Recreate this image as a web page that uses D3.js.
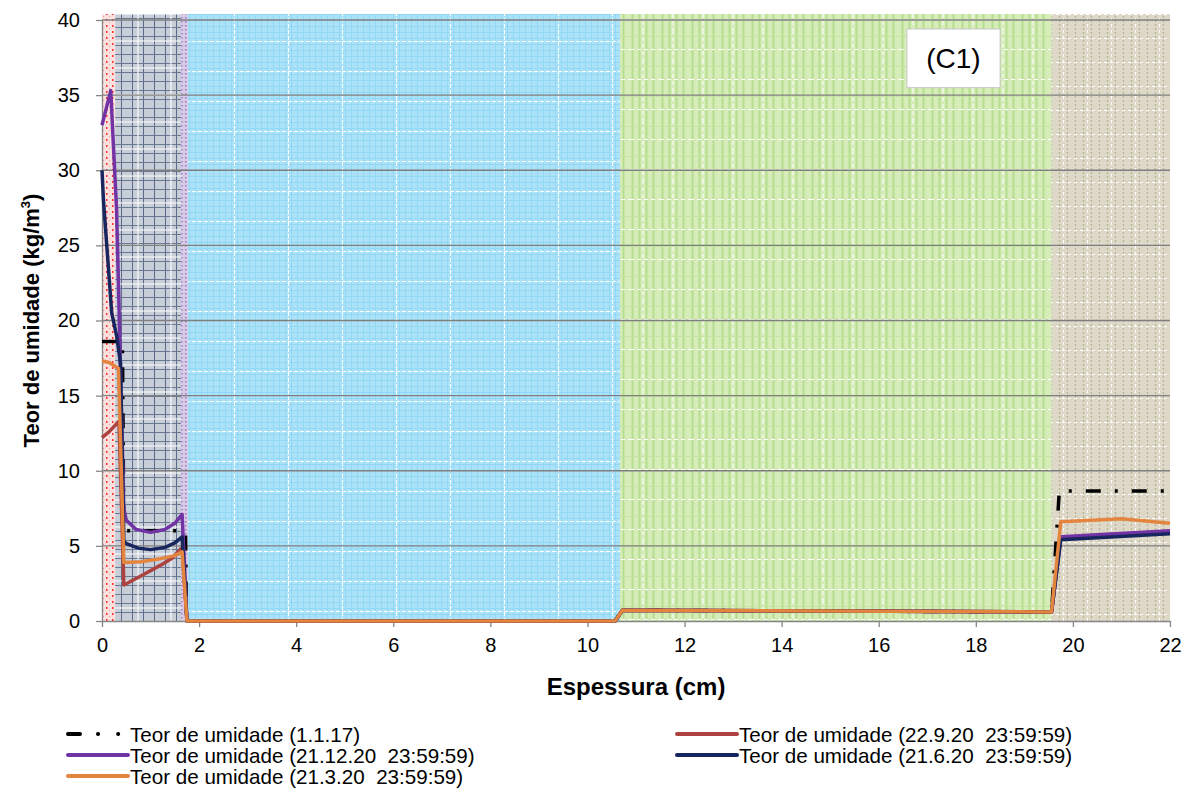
<!DOCTYPE html>
<html>
<head>
<meta charset="utf-8">
<script src="https://cdn.jsdelivr.net/npm/d3@7"></script>
<style>
  body { margin: 0; background: #fff; }
  svg { display: block; }
  text { font-family: "Liberation Sans", Arial, sans-serif; fill: #000; }
</style>
</head>
<body>
<svg id="chart" width="1184" height="789"></svg>
<script>
// ticks
const xTicks = [0, 2, 4, 6, 8, 10, 12, 14, 16, 18, 20, 22];
const yTicks = [0, 5, 10, 15, 20, 25, 30, 35, 40];

// material layers (cm)
const layerStart = [0, 0.27, 1.63, 1.77, 10.67, 19.56];
const layerEnd = [0.27, 1.63, 1.77, 10.67, 19.56, 22];
const layerFill = ['pReboco', 'pTijolo', 'pCola', 'pAzul', 'pVerde', 'pPedra'];

// series
const seriesNames = [
  'Teor de umidade (1.1.17)',
  'Teor de umidade (22.9.20  23:59:59)',
  'Teor de umidade (21.12.20  23:59:59)',
  'Teor de umidade (21.6.20  23:59:59)',
  'Teor de umidade (21.3.20  23:59:59)'
];
const seriesColors = ['#000000', '#ad4340', '#7234a4', '#17265f', '#e3853f'];

const xJan17 = [0, 0.42, 0.45, 1.72, 1.74, 10.57, 10.72, 19.56, 19.72, 22];
const yJan17 = [18.6, 18.6, 6.0, 6.0, 0, 0, 0.72, 0.6, 8.65, 8.65];

const xSep20 = [0, 0.15, 0.35, 0.45, 0.8, 1.2, 1.45, 1.65, 1.75, 10.57, 10.72, 19.56, 19.75, 22];
const ySep20 = [12.2, 12.6, 13.3, 2.4, 3.0, 3.7, 4.2, 4.9, 0, 0, 0.72, 0.6, 5.5, 5.9];

const xDec20 = [0, 0.18, 0.3, 0.35, 0.4, 0.45, 0.5, 0.7, 1.0, 1.3, 1.5, 1.65, 1.75, 10.57, 10.72, 19.56, 19.75, 22];
const yDec20 = [33, 35.3, 27.4, 21, 14, 7.5, 6.7, 6.1, 5.9, 6.1, 6.5, 7.1, 0, 0, 0.72, 0.6, 5.6, 6.0];

const xJun20 = [0, 0.03, 0.13, 0.2, 0.3, 0.38, 0.45, 0.5, 0.75, 1.0, 1.3, 1.5, 1.65, 1.75, 10.57, 10.72, 19.56, 19.75, 22];
const yJun20 = [30, 28, 23.6, 20.5, 19, 17.2, 5.3, 5.15, 4.85, 4.75, 4.9, 5.2, 5.6, 0, 0, 0.72, 0.6, 5.4, 5.8];

const xMar20 = [0, 0.15, 0.34, 0.45, 0.8, 1.2, 1.5, 1.65, 1.75, 10.57, 10.72, 19.56, 19.75, 21, 22];
const yMar20 = [17.3, 17.2, 16.8, 3.9, 3.95, 4.15, 4.35, 4.6, 0, 0, 0.72, 0.6, 6.6, 6.8, 6.5];

const seriesX = [xJan17, xSep20, xDec20, xJun20, xMar20];
const seriesY = [yJan17, ySep20, yDec20, yJun20, yMar20];
const drawOrder = [0, 1, 2, 3, 4];

// legend layout: [column, row]
const legendSlots = [[0, 0], [1, 0], [0, 1], [1, 1], [0, 2]];

const svg = d3.select('#chart');
const margin = { top: 20, right: 14, bottom: 168, left: 102 };
const W = 1184, H = 789;

const x = d3.scaleLinear().domain([0, 22]).range([margin.left, W - margin.right]);
const y = d3.scaleLinear().domain([0, 40]).range([H - margin.bottom, margin.top]);

// ---- patterns
const defs = svg.append('defs');

function makePattern(id, w, h, base, marks) {
  const p = defs.append('pattern')
    .attr('id', id)
    .attr('patternUnits', 'userSpaceOnUse')
    .attr('width', w).attr('height', h);
  p.append('rect').attr('width', w).attr('height', h).attr('fill', base);
  marks.forEach(m => {
    if (m.type === 'rect') {
      p.append('rect').attr('x', m.x).attr('y', m.y)
        .attr('width', m.w).attr('height', m.h).attr('fill', m.c);
    } else {
      p.append('line')
        .attr('x1', m.x1).attr('y1', m.y1).attr('x2', m.x2).attr('y2', m.y2)
        .attr('stroke', m.c).attr('stroke-width', m.sw || 1)
        .attr('stroke-dasharray', m.dash || null);
    }
  });
}

makePattern('pReboco', 6, 6, '#fbe0e0', [
  { type: 'rect', x: 4, y: 1, w: 1.5, h: 2, c: '#ff3030' },
  { type: 'rect', x: 1, y: 4, w: 1, h: 1, c: '#f79a9a' }
]);
makePattern('pTijolo', 33, 27, '#c8ced8', [
  { x1: 0.5, y1: 0, x2: 0.5, y2: 27, c: '#5a6a88', sw: 1 },
  { x1: 11.5, y1: 0, x2: 11.5, y2: 27, c: '#5a6a88', sw: 1 },
  { x1: 22.5, y1: 0, x2: 22.5, y2: 27, c: '#5a6a88', sw: 1 },
  { x1: 0, y1: 0.5, x2: 33, y2: 0.5, c: '#6a7892', sw: 1 },
  { x1: 0, y1: 9.5, x2: 33, y2: 9.5, c: '#6a7892', sw: 1 },
  { x1: 0, y1: 18.5, x2: 33, y2: 18.5, c: '#6a7892', sw: 1 },
  { x1: 6, y1: 0, x2: 6, y2: 27, c: '#ffffff', sw: 1 },
  { x1: 0, y1: 14, x2: 33, y2: 14, c: '#ffffff', sw: 1 }
]);
makePattern('pCola', 4, 4, '#d8cbe6', [
  { type: 'rect', x: 1, y: 1, w: 1.5, h: 1.5, c: '#9b74c6' }
]);
makePattern('pAzul', 54, 30, '#abe2f8', [
  { x1: 0, y1: 2.5, x2: 54, y2: 2.5, c: '#92d8f4', sw: 1 },
  { x1: 0, y1: 8.5, x2: 54, y2: 8.5, c: '#92d8f4', sw: 1 },
  { x1: 0, y1: 14.5, x2: 54, y2: 14.5, c: '#92d8f4', sw: 1 },
  { x1: 0, y1: 20.5, x2: 54, y2: 20.5, c: '#92d8f4', sw: 1 },
  { x1: 0, y1: 26.5, x2: 54, y2: 26.5, c: '#92d8f4', sw: 1 },
  { x1: 3.5, y1: 0, x2: 3.5, y2: 30, c: '#92d8f4', sw: 1 },
  { x1: 9.5, y1: 0, x2: 9.5, y2: 30, c: '#92d8f4', sw: 1 },
  { x1: 15.5, y1: 0, x2: 15.5, y2: 30, c: '#92d8f4', sw: 1 },
  { x1: 21.5, y1: 0, x2: 21.5, y2: 30, c: '#92d8f4', sw: 1 },
  { x1: 27.5, y1: 0, x2: 27.5, y2: 30, c: '#92d8f4', sw: 1 },
  { x1: 33.5, y1: 0, x2: 33.5, y2: 30, c: '#92d8f4', sw: 1 },
  { x1: 39.5, y1: 0, x2: 39.5, y2: 30, c: '#92d8f4', sw: 1 },
  { x1: 45.5, y1: 0, x2: 45.5, y2: 30, c: '#92d8f4', sw: 1 },
  { x1: 51.5, y1: 0, x2: 51.5, y2: 30, c: '#92d8f4', sw: 1 },
  { x1: 0, y1: 11.5, x2: 54, y2: 11.5, c: '#ffffff', sw: 1, dash: '4,2' },
  { x1: 18.5, y1: 0, x2: 18.5, y2: 30, c: '#ffffff', sw: 1, dash: '4,2' }
]);
makePattern('pVerde', 30, 30, '#d6edb9', [
  { x1: 2.5, y1: 0, x2: 2.5, y2: 30, c: '#b6de90', sw: 2 },
  { x1: 9.5, y1: 0, x2: 9.5, y2: 30, c: '#b6de90', sw: 2 },
  { x1: 16.5, y1: 0, x2: 16.5, y2: 30, c: '#b6de90', sw: 2 },
  { x1: 23.5, y1: 0, x2: 23.5, y2: 30, c: '#b6de90', sw: 2 },
  { x1: 0, y1: 6.5, x2: 30, y2: 6.5, c: '#c5e4a3', sw: 1 },
  { x1: 0, y1: 19.5, x2: 30, y2: 19.5, c: '#ffffff', sw: 1, dash: '4,3' },
  { x1: 13, y1: 0, x2: 13, y2: 30, c: '#ffffff', sw: 1, dash: '4,3' }
]);
makePattern('pPedra', 24, 24, '#ddd8c7', [
  { x1: 3.5, y1: 0, x2: 3.5, y2: 24, c: '#b9b18f', sw: 1.2, dash: '2,2' },
  { x1: 11.5, y1: 0, x2: 11.5, y2: 24, c: '#b9b18f', sw: 1.2, dash: '2,2' },
  { x1: 19.5, y1: 0, x2: 19.5, y2: 24, c: '#b9b18f', sw: 1.2, dash: '2,2' },
  { x1: 7.5, y1: 0, x2: 7.5, y2: 24, c: '#ffffff', sw: 1, dash: '3,3' },
  { x1: 0, y1: 14.5, x2: 24, y2: 14.5, c: '#ffffff', sw: 1, dash: '3,3' }
]);

// ---- layers
svg.append('g').selectAll('rect')
  .data(layerStart.map((s, i) => ({ s, e: layerEnd[i], f: layerFill[i] })))
  .join('rect')
  .attr('x', d => x(d.s))
  .attr('width', d => x(d.e) - x(d.s))
  .attr('y', y(40.4))
  .attr('height', y(0) - y(40.4))
  .attr('fill', d => `url(#${d.f})`);

// ---- horizontal gridlines
svg.append('g').selectAll('line')
  .data(yTicks.filter(t => t > 0))
  .join('line')
  .attr('x1', x(0)).attr('x2', x(22))
  .attr('y1', d => y(d)).attr('y2', d => y(d))
  .attr('stroke', '#7f7f7f').attr('stroke-width', 1.3);

// ---- axes
const xAxis = svg.append('g')
  .attr('transform', `translate(0,${y(0)})`)
  .call(d3.axisBottom(x).tickValues(xTicks).tickSize(6).tickPadding(11).tickSizeOuter(0));
const yAxis = svg.append('g')
  .attr('transform', `translate(${x(0)},0)`)
  .call(d3.axisLeft(y).tickValues(yTicks).tickSize(6).tickPadding(16).tickSizeOuter(0));
[xAxis, yAxis].forEach(a => {
  a.select('.domain').attr('stroke', '#868686').attr('stroke-width', 1.3);
  a.selectAll('.tick line').attr('stroke', '#868686').attr('stroke-width', 1.3);
  a.selectAll('.tick text').attr('font-size', 20).attr('fill', '#000')
    .attr('font-family', '"Liberation Sans", Arial, sans-serif');
});

// ---- series
const line = d3.line().x(d => x(d[0])).y(d => y(d[1]));
svg.append('g').selectAll('path')
  .data(drawOrder)
  .join('path')
  .attr('d', i => line(seriesX[i].map((v, k) => [v, seriesY[i][k]])))
  .attr('fill', 'none')
  .attr('stroke', i => seriesColors[i])
  .attr('stroke-width', 3.5)
  .attr('stroke-linejoin', 'round')
  .attr('stroke-dasharray', i => i === 0 ? '15,14,3,14' : null);

// ---- (C1) label box
const boxG = svg.append('g');
boxG.append('rect')
  .attr('x', x(16.58)).attr('y', y(39.4))
  .attr('width', x(18.5) - x(16.58)).attr('height', y(35.5) - y(39.4))
  .attr('fill', '#fff').attr('stroke', '#c8c8c8').attr('stroke-width', 1);
boxG.append('text')
  .attr('x', (x(16.58) + x(18.5)) / 2).attr('y', y(37.45))
  .attr('text-anchor', 'middle').attr('dominant-baseline', 'central')
  .attr('font-size', 28).attr('font-family', '"Open Sans", "Liberation Sans", sans-serif')
  .text('(C1)');

// ---- axis titles
svg.append('text')
  .attr('x', (x(0) + x(22)) / 2).attr('y', 695)
  .attr('text-anchor', 'middle').attr('font-size', 24).attr('font-weight', 'bold')
  .text('Espessura (cm)');
const yt = svg.append('text')
  .attr('transform', `translate(39,${(y(0) + y(40)) / 2}) rotate(-90)`)
  .attr('text-anchor', 'middle').attr('font-size', 22).attr('font-weight', 'bold');
yt.append('tspan').text('Teor de umidade (kg/m');
yt.append('tspan').attr('font-size', 13).attr('dy', -9).text('3');
yt.append('tspan').attr('dy', 9).text(')');

// ---- legend
const legCols = [68, 677];
const legRow0 = 734, legRowH = 21, legLen = 60;
const leg = svg.append('g').selectAll('g')
  .data(seriesNames.map((n, i) => ({ n, i })))
  .join('g')
  .attr('transform', d => `translate(${legCols[legendSlots[d.i][0]]},${legRow0 + legRowH * legendSlots[d.i][1]})`);
leg.append('line')
  .attr('x1', 0).attr('x2', legLen).attr('y1', 0).attr('y2', 0)
  .attr('stroke', d => seriesColors[d.i]).attr('stroke-width', 4)
  .attr('stroke-linecap', 'round')
  .attr('stroke-dasharray', d => d.i === 0 ? '12,18,0.1,20,0.1,40' : null);
leg.append('text')
  .attr('x', legLen + 2).attr('y', 0).attr('dominant-baseline', 'central')
  .attr('font-size', 20.6).style('white-space', 'pre')
  .text(d => d.n);
</script>
</body>
</html>
